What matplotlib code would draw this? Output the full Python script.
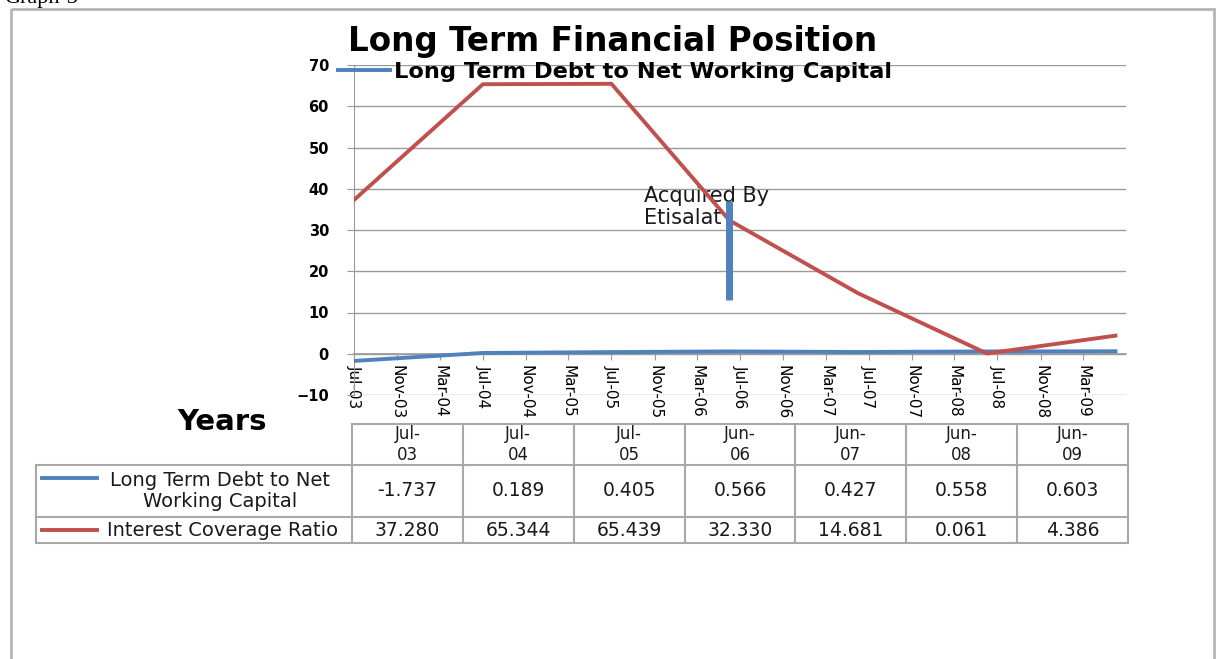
import numpy as np
import pandas as pd
import matplotlib
matplotlib.use('Agg')
import matplotlib.pyplot as plt
import matplotlib.dates as mdates
from matplotlib.patches import Rectangle

periods = ['2003-07-01', '2004-07-01', '2005-07-01', '2006-06-01',
           '2007-06-01', '2008-06-01', '2009-06-01']
period_labels = ['Jul-\n03', 'Jul-\n04', 'Jul-\n05', 'Jun-\n06',
                 'Jun-\n07', 'Jun-\n08', 'Jun-\n09']
debt_to_nwc = [-1.737, 0.189, 0.405, 0.566, 0.427, 0.558, 0.603]
interest_cover = [37.280, 65.344, 65.439, 32.330, 14.681, 0.061, 4.386]
row_names = ['Long Term Debt to Net\nWorking Capital', 'Interest Coverage Ratio']
acquired_on = '2006-06-01'
acquired_span = [13, 37]

BLUE = '#4F81BD'
RED = '#C0504D'
GRID = '#9a9a9a'
EDGE = '#a8a8a8'
INK = '#1a1a1a'

W, H = 1219, 659
fig = plt.figure(figsize=(W / 100, H / 100), dpi=100)


def fx(px):
    return px / W


def fy(py):
    return 1 - py / H


# pixel-space layer for the frame, labels and the data table
bg = fig.add_axes([0, 0, 1, 1])
bg.set_xlim(0, W)
bg.set_ylim(H, 0)
bg.axis('off')

ax = fig.add_axes([fx(354), fy(395), (1126 - 354) / W, (395 - 65) / H])
ax.set_zorder(2)
ax.patch.set_alpha(0)

dates = pd.to_datetime(periods)
debt_line, = ax.plot(dates, debt_to_nwc, color=BLUE, lw=2.8, zorder=3,
                     label='Long Term Debt to Net Working Capital')
ax.plot(dates, interest_cover, color=RED, lw=2.8, zorder=3)

# acquisition marker
acq = pd.Timestamp(acquired_on)
ax.plot([acq, acq], acquired_span, color=BLUE, lw=5, solid_capstyle='butt', zorder=4)
ax.text(pd.Timestamp('2005-10-01'), 40.6, 'Acquired By\nEtisalat', ha='left', va='top',
        fontsize=15, color=INK, linespacing=1.1, zorder=1.5)

ax.set_xlim(pd.Timestamp('2003-07-01'), pd.Timestamp('2009-07-01'))
ax.set_ylim(-10, 70)
ax.set_yticks(range(-10, 71, 10))
ax.set_xticks(pd.date_range('2003-07-01', '2009-03-01', freq='4MS'))
ax.xaxis.set_major_formatter(mdates.DateFormatter('%b-%y'))

ax.spines['top'].set_visible(False)
ax.spines['right'].set_visible(False)
ax.spines['left'].set_color(GRID)
ax.spines['bottom'].set_color(GRID)
ax.spines['bottom'].set_position(('data', 0))
ax.spines['bottom'].set_linewidth(1.2)

ax.yaxis.grid(True, color=GRID, lw=1)
ax.set_axisbelow(True)
ax.tick_params(axis='y', length=5, color=GRID, pad=13, labelsize=10.5)
ax.tick_params(axis='x', length=4, color=GRID, pad=4, labelsize=11, labelrotation=270)
for lbl in ax.get_yticklabels():
    lbl.set_fontweight('bold')

fig.legend(handles=[debt_line], loc='center left', bbox_to_anchor=(fx(338), fy(72)),
           frameon=False, handlelength=2.3, handletextpad=0.2, borderpad=0,
           borderaxespad=0, prop={'weight': 'bold', 'size': 16.2})

fig.text(fx(613), fy(42), 'Long Term Financial Position', ha='center', va='center',
         fontsize=23.5, fontweight='bold')

# outer frame and caption
bg.add_patch(Rectangle((11, 9), 1214 - 11, 700, fill=False, edgecolor='#b5b5b5', lw=2))
bg.text(4, 3, 'Graph-3', fontfamily='Liberation Serif', fontsize=16, va='baseline')

bg.text(222, 422, 'Years', ha='center', va='center', fontsize=21, fontweight='bold')

# data table
col_edges = np.linspace(352, 1128, len(periods) + 1)
row_y = [424, 465, 517, 543]
label_left = 36

bg.plot([col_edges[0], col_edges[-1]], [row_y[0], row_y[0]], color=EDGE, lw=1.5)
for y in row_y[1:]:
    bg.plot([label_left, col_edges[-1]], [y, y], color=EDGE, lw=1.5)
bg.plot([label_left, label_left], [row_y[1], row_y[3]], color=EDGE, lw=1.5)
for x in col_edges:
    bg.plot([x, x], [row_y[0], row_y[3]], color=EDGE, lw=1.5)

centers = (col_edges[:-1] + col_edges[1:]) / 2
row_mid = [(row_y[1] + row_y[2]) / 2, (row_y[2] + row_y[3]) / 2]
for cx, lab, d, r in zip(centers, period_labels, debt_to_nwc, interest_cover):
    bg.text(cx, (row_y[0] + row_y[1]) / 2, lab, ha='center', va='center',
            fontsize=12, linespacing=1.2, color=INK)
    bg.text(cx, row_mid[0], f'{d:.3f}', ha='center', va='center', fontsize=13.5, color=INK)
    bg.text(cx, row_mid[1], f'{r:.3f}', ha='center', va='center', fontsize=13.5, color=INK)

bg.plot([42, 97], [478, 478], color=BLUE, lw=2.8)
bg.plot([42, 97], [530, 530], color=RED, lw=2.8)
bg.text(220, row_mid[0], row_names[0], ha='center', va='center', fontsize=14,
        linespacing=1.15, color=INK)
bg.text(223, row_mid[1], row_names[1], ha='center', va='center', fontsize=14,
        color=INK)

fig.savefig('out.png', dpi=100)
